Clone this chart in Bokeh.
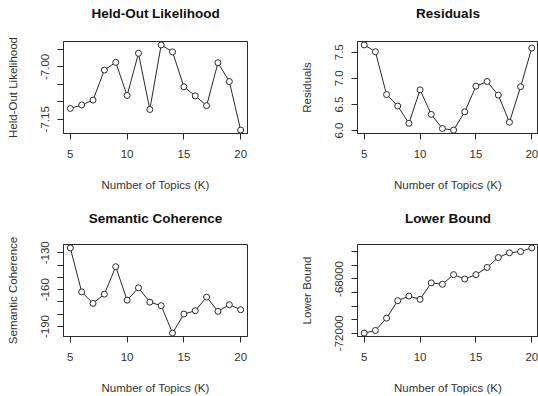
from bokeh.plotting import figure
from bokeh.layouts import gridplot
from bokeh.models import Range1d, FixedTicker, Title
from bokeh.embed import file_html
from bokeh.resources import INLINE

# ---- data ----
K = list(range(5, 21))
heldout = [-7.119, -7.109, -7.095, -7.009, -6.987, -7.082, -6.961, -7.122,
           -6.937, -6.957, -7.057, -7.083, -7.111, -6.988, -7.042, -7.181]
residuals = [7.64, 7.51, 6.69, 6.47, 6.14, 6.78, 6.31, 6.04,
             6.01, 6.36, 6.85, 6.94, 6.68, 6.16, 6.84, 7.58]
semcoh = [-126.0, -161.8, -171.1, -163.6, -141.3, -168.5, -158.5, -170.1,
          -173.0, -195.3, -179.8, -177.1, -166.0, -177.6, -172.2, -176.3]
lbound = [-71990, -71800, -70890, -69600, -69260, -69500, -68290, -68390,
          -67680, -68000, -67680, -67150, -66420, -66070, -65980, -65710]

x_ticks = [5, 10, 15, 20]
hl_ticks = [-7.15, -7.10, -7.05, -7.00, -6.95]
hl_shown = {-7.15: "-7.15", -7.00: "-7.00"}
res_ticks = [6.0, 6.5, 7.0, 7.5]
res_shown = {6.0: "6.0", 6.5: "6.5", 7.0: "7.0", 7.5: "7.5"}
sc_ticks = [-190, -180, -170, -160, -150, -140, -130]
sc_shown = {-190: "-190", -160: "-160", -130: "-130"}
lb_ticks = [-72000, -71000, -70000, -69000, -68000, -67000, -66000]
lb_shown = {-72000: "-72000", -68000: "-68000"}

FONT = "Liberation Sans"
TXT = "#333333"
LINE = "#2a2a2a"


def expand(vals, f=0.04):
    lo, hi = min(vals), max(vals)
    d = (hi - lo) * f
    return lo - d, hi + d


def panel(title, ylabel, yvals, yticks, yshown, borders, fw, fh, spacer):
    left, right, top, bottom = borders
    p = figure(width=fw, height=fh, output_backend="svg", toolbar_location=None,
               min_border_left=left, min_border_right=right,
               min_border_top=top, min_border_bottom=bottom)
    xlo, xhi = expand(K)
    ylo, yhi = expand(yvals)
    p.x_range = Range1d(xlo, xhi)
    p.y_range = Range1d(ylo, yhi)
    p.grid.visible = False
    p.outline_line_color = LINE
    p.outline_line_width = 1
    p.background_fill_color = "white"
    p.border_fill_color = "white"

    p.title.text = ""
    p.add_layout(Title(text=" ", text_font_size="1px", standoff=spacer), "above")
    p.add_layout(Title(text=title, align="center", text_font=FONT,
                       text_font_size="13.5px", text_font_style="bold",
                       text_color="#111111", standoff=4), "above")

    p.xaxis.ticker = FixedTicker(ticks=x_ticks)
    p.yaxis.ticker = FixedTicker(ticks=yticks)
    p.yaxis.major_label_overrides = {t: yshown.get(t, "") for t in yticks}
    p.xaxis.axis_label = "Number of Topics (K)"
    p.yaxis.axis_label = ylabel
    for ax in (p.xaxis[0], p.yaxis[0]):
        ax.axis_line_color = LINE
        ax.major_tick_line_color = LINE
        ax.major_tick_out = 6
        ax.major_tick_in = 0
        ax.minor_tick_line_color = None
        ax.major_label_text_font = FONT
        ax.major_label_text_font_size = "11.5px"
        ax.major_label_text_color = TXT
        ax.axis_label_text_font = FONT
        ax.axis_label_text_font_size = "11.5px"
        ax.axis_label_text_font_style = "normal"
        ax.axis_label_text_color = TXT
    p.xaxis.major_label_standoff = 10
    p.xaxis.axis_label_standoff = 18
    p.yaxis.major_label_standoff = 8
    p.yaxis.axis_label_standoff = 20
    p.yaxis.major_label_orientation = "vertical"

    p.line(K, yvals, line_color=LINE, line_width=1)
    p.scatter(K, yvals, marker="circle", size=6, fill_color="white",
              line_color=LINE, line_width=1)
    return p


p1 = panel("Held-Out Likelihood", "Held-Out Likelihood", heldout, hl_ticks, hl_shown,
           (63, 22, 41, 69), 269, 202, 16)
p2 = panel("Residuals", "Residuals", residuals, res_ticks, res_shown,
           (88, 0, 41, 69), 269, 202, 16)
p3 = panel("Semantic Coherence", "Semantic Coherence", semcoh, sc_ticks, sc_shown,
           (63, 22, 42, 59), 269, 194, 14)
p4 = panel("Lower Bound", "Lower Bound", lbound, lb_ticks, lb_shown,
           (88, 0, 42, 59), 269, 194, 14)

grid = gridplot([[p1, p2], [p3, p4]], toolbar_location=None)

open("out.html", "w").write(file_html(grid, INLINE))
